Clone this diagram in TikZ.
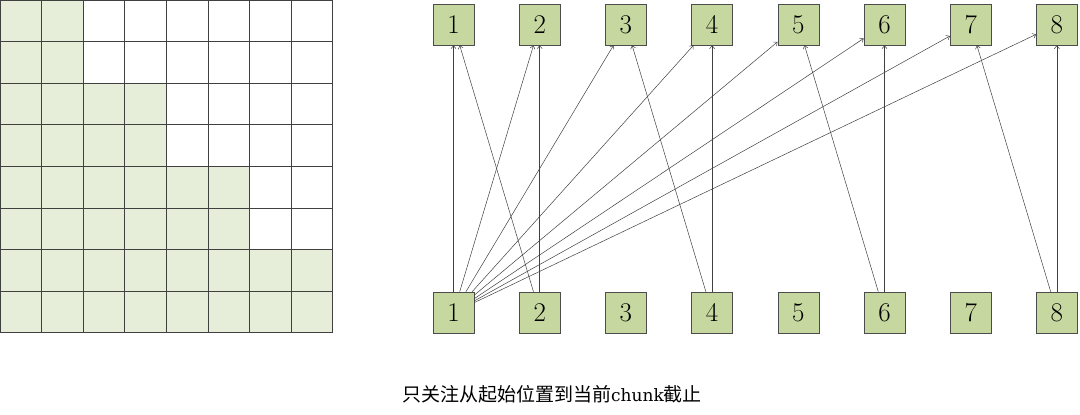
\documentclass[tikz,border=0pt]{standalone}
\usepackage{fontspec}
\usetikzlibrary{arrows.meta}
\newfontfamily\cjk{Noto Sans CJK SC}
\newfontfamily\latincap{DejaVu Serif}
\begin{document}
\begin{tikzpicture}[x=1pt,y=-1pt,
  tok/.style={draw=black!70,fill=boxgreen,minimum width=41pt,minimum height=41pt,inner sep=0pt,line width=0.6pt,font=\fontsize{27}{30}\selectfont},
  link/.style={draw=black!75,line width=0.5pt,-{Straight Barb[length=3pt,width=5pt]}},
]
\definecolor{boxgreen}{HTML}{C7D7A0}
\definecolor{cellgreen}{HTML}{E6EED9}
\useasboundingbox (0,0) rectangle (1080,415);
% grid shading
\def\c{41.6}
\fill[cellgreen] (0,0) rectangle (2*\c,2*\c);
\fill[cellgreen] (0,2*\c) rectangle (4*\c,4*\c);
\fill[cellgreen] (0,4*\c) rectangle (6*\c,6*\c);
\fill[cellgreen] (0,6*\c) rectangle (8*\c,8*\c);
\foreach \i in {0,...,8}{
  \draw[black!75,line width=0.75pt] (\i*\c,0) -- (\i*\c,8*\c);
  \draw[black!75,line width=0.75pt] (0,\i*\c) -- (8*\c,\i*\c);
}
% nodes
\foreach \i in {1,...,8}{
  \node[tok] (t\i) at ({453.5+86.2*(\i-1)},24.5) {\i};
  \node[tok] (b\i) at ({453.5+86.2*(\i-1)},312.5) {\i};
}
% connectors
\foreach \j in {1,...,8}{ \draw[link] (b1) -- (t\j); }
\draw[link] (b2) -- (t1);
\draw[link] (b2) -- (t2);
\draw[link] (b4) -- (t3);
\draw[link] (b4) -- (t4);
\draw[link] (b6) -- (t5);
\draw[link] (b6) -- (t6);
\draw[link] (b8) -- (t7);
\draw[link] (b8) -- (t8);
\node[font=\fontsize{19}{24}\selectfont,inner sep=0pt] (cap) at (552,394) {{\cjk 只关注从起始位置到当前}{\latincap\fontsize{17}{24}\selectfont chunk}{\cjk 截止}};
\end{tikzpicture}
\end{document}
